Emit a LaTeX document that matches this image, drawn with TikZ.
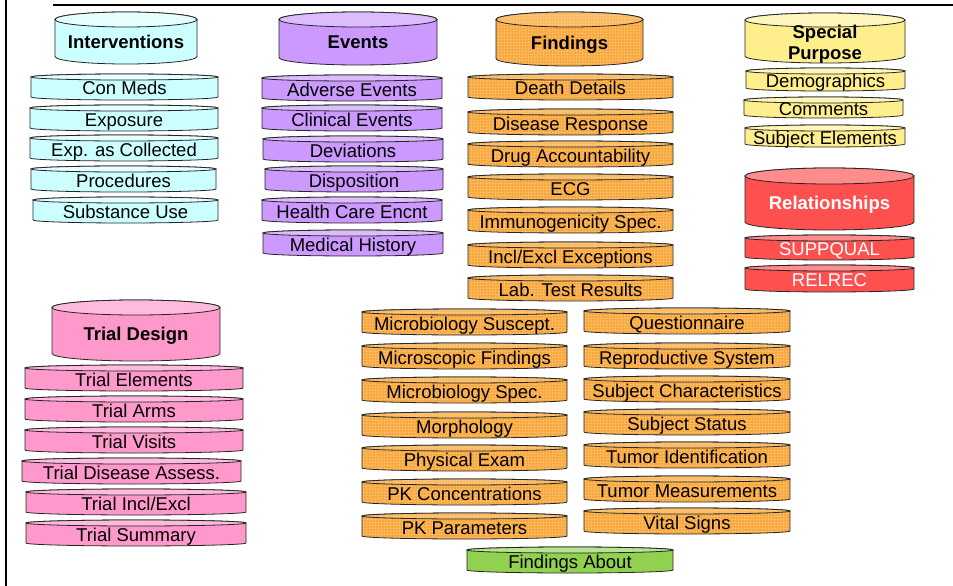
\documentclass[tikz,border=0pt]{standalone}
\usepackage{fontspec}
\setmainfont{Liberation Sans}
\usetikzlibrary{patterns}

% fine light grid laid over the orange fill of the findings domains
\pgfdeclarepatternformonly{fgrid}{\pgfpointorigin}{\pgfpoint{3pt}{3pt}}{\pgfpoint{3pt}{3pt}}{%
  \pgfpathrectangle{\pgfpointorigin}{\pgfpoint{3pt}{0.55pt}}%
  \pgfpathrectangle{\pgfpointorigin}{\pgfpoint{0.55pt}{3pt}}%
  \pgfusepath{fill}}

\definecolor{intbody}{HTML}{CCFFFF}\definecolor{inttop}{HTML}{E6FFFF}
\definecolor{evtbody}{HTML}{CC99FF}\definecolor{evttop}{HTML}{DDBBFF}
\definecolor{fndbody}{HTML}{F8A83C}\definecolor{fndtop}{HTML}{FABA62}\definecolor{fndgrid}{HTML}{FFD396}
\definecolor{spcbody}{HTML}{FFEF8C}\definecolor{spctop}{HTML}{FFF6BC}
\definecolor{relbody}{HTML}{FF5050}\definecolor{reltop}{HTML}{FF8C8C}
\definecolor{tdbody}{HTML}{FF99CC}\definecolor{tdtop}{HTML}{FFBADD}
\definecolor{fabody}{HTML}{92D050}\definecolor{fatop}{HTML}{B8E38F}

\tikzset{
  outl/.style={draw=black!85, line width=0.8pt},
  lbl/.style={font=\fontsize{18.5}{21}\selectfont, inner sep=0pt, anchor=base},
  lblw/.style={lbl, text=white},
  hdr/.style={lbl, font=\fontsize{18.5}{21}\selectfont\bfseries},
  hdrw/.style={hdr, text=white},
  bd int/.style={fill=intbody}, tp int/.style={fill=inttop},
  bd evt/.style={fill=evtbody}, tp evt/.style={fill=evttop},
  bd fnd/.style={preaction={fill=fndbody}, preaction={pattern=fgrid, pattern color=fndgrid}},
  tp fnd/.style={preaction={fill=fndtop}, preaction={pattern=fgrid, pattern color=fndgrid}},
  bd spc/.style={fill=spcbody}, tp spc/.style={fill=spctop},
  bd rel/.style={fill=relbody}, tp rel/.style={fill=reltop},
  bd td/.style={fill=tdbody}, tp td/.style={fill=tdtop},
  bd fa/.style={fill=fabody}, tp fa/.style={fill=fatop},
}

% #1 name, #2 left x, #3 right x, #4 top y, #5 bottom y, #6 cap radius,
% #7 colour family, #8 label style, #9 label
\newcommand\drum[9]{%
  \pgfmathsetmacro\dcx{(#2+#3)/2}%
  \pgfmathsetmacro\drx{(#3-#2)/2}%
  \pgfmathsetmacro\dyt{#4+#6}%
  \pgfmathsetmacro\dyb{#5-#6}%
  \pgfmathsetmacro\dbase{(#4+#5+#6)/2+6.5}%
  \path[outl, bd #7] (#2,\dyt) -- (#2,\dyb)
     arc[start angle=180, end angle=360, x radius=\drx pt, y radius=#6 pt]
     -- (#3,\dyt)
     arc[start angle=0, end angle=180, x radius=\drx pt, y radius=#6 pt] -- cycle;
  \path[outl, tp #7] (\dcx,\dyt) ellipse[x radius=\drx pt, y radius=#6 pt];
  \node[#8] (#1) at (\dcx,\dbase) {#9};
}
% a flat table disk, given by the height of its label
\newcommand\slab[6]{%
  \pgfmathsetmacro\sltop{#4-15}\pgfmathsetmacro\slbot{#4+11}%
  \drum{#1}{#2}{#3}{\sltop}{\slbot}{3}{#5}{lbl}{#6}}

\begin{document}
\begin{tikzpicture}[x=1pt, y=-1pt]
\useasboundingbox (0,0) rectangle (953,586);

% frame
\draw[line width=2.5pt] (6,-2) -- (6,588);
\draw[line width=2.5pt] (53,5) -- (955,5);

% Interventions
\drum{int}{55}{197}{12}{64}{7.5}{int}{hdr}{Interventions}
\slab{cm}{31}{218}{89}{int}{Con Meds}
\slab{ex}{30}{218}{120}{int}{Exposure}
\slab{ec}{30}{218}{150}{int}{Exp. as Collected}
\slab{pr}{31}{216}{181}{int}{Procedures}
\slab{su}{33}{218}{212}{int}{Substance Use}

% Events
\drum{evt}{279}{437}{12}{65}{7.5}{evt}{hdr}{Events}
\slab{ae}{262}{442}{90}{evt}{Adverse Events}
\slab{ce}{262}{442}{120}{evt}{Clinical Events}
\slab{dv}{263}{443}{151}{evt}{Deviations}
\slab{ds}{265}{443}{181}{evt}{Disposition}
\slab{ho}{262}{442}{212}{evt}{Health Care Encnt}
\slab{mh}{263}{443}{245}{evt}{Medical History}

% Findings
\drum{fnd}{496}{643}{12}{66}{7.5}{fnd}{hdr}{Findings}
\slab{dd}{468}{673}{89}{fnd}{Death Details}
\slab{dr}{468}{673}{124}{fnd}{Disease Response}
\slab{da}{468}{673}{156}{fnd}{Drug Accountability}
\slab{eg}{468}{673}{189}{fnd}{ECG}
\slab{is}{468}{673}{222}{fnd}{Immunogenicity Spec.}
\slab{ie}{468}{673}{257}{fnd}{Incl/Excl Exceptions}
\slab{lb}{468}{673}{290}{fnd}{Lab. Test Results}

\slab{ms}{362}{567}{324}{fnd}{Microbiology Suscept.}
\slab{mi}{362}{567}{358}{fnd}{Microscopic Findings}
\slab{mb}{362}{567}{392}{fnd}{Microbiology Spec.}
\slab{mo}{362}{567}{427}{fnd}{Morphology}
\slab{pe}{362}{567}{460}{fnd}{Physical Exam}
\slab{pc}{362}{567}{494}{fnd}{PK Concentrations}
\slab{pp}{362}{567}{528}{fnd}{PK Parameters}

\slab{qs}{584}{790}{323}{fnd}{Questionnaire}
\slab{rp}{584}{790}{358}{fnd}{Reproductive System}
\slab{sc}{584}{790}{391}{fnd}{Subject Characteristics}
\slab{ss}{584}{790}{424}{fnd}{Subject Status}
\slab{ti}{584}{790}{457}{fnd}{Tumor Identification}
\slab{tm}{584}{790}{491}{fnd}{Tumor Measurements}
\slab{vs}{584}{790}{523}{fnd}{Vital Signs}

\slab{fa}{467}{673}{562}{fa}{Findings About}

% Special Purpose
\drum{spc}{745}{905}{13}{63}{7}{spc}{hdr}{}
\node[font=\fontsize{18.5}{21}\selectfont\bfseries, inner sep=0pt, align=center]
  (spclbl) at (825,44.4) {Special\\Purpose};
\drum{dm}{746}{905}{68}{91}{3}{spc}{lbl}{Demographics}
\drum{co}{744}{903}{97}{118}{3}{spc}{lbl}{Comments}
\drum{se}{745}{905}{125}{147}{3}{spc}{lbl}{Subject Elements}

% Relationships
\drum{rel}{745}{914}{168}{230}{8}{rel}{hdrw}{Relationships}
\drum{sq}{745}{914}{235}{260}{3}{rel}{lblw}{SUPPQUAL}
\drum{rr}{745}{914}{265}{292}{3}{rel}{lblw}{RELREC}

% Trial Design
\drum{td}{52}{220}{300}{361}{7.5}{td}{hdr}{Trial Design}
\slab{te}{25}{243}{380}{td}{Trial Elements}
\slab{ta}{25}{243}{411}{td}{Trial Arms}
\slab{tv}{25}{243}{442}{td}{Trial Visits}
\slab{tda}{22}{241}{473}{td}{Trial Disease Assess.}
\slab{tie}{26}{246}{504}{td}{Trial Incl/Excl}
\slab{tsm}{26}{246}{535}{td}{Trial Summary}
\end{tikzpicture}
\end{document}
